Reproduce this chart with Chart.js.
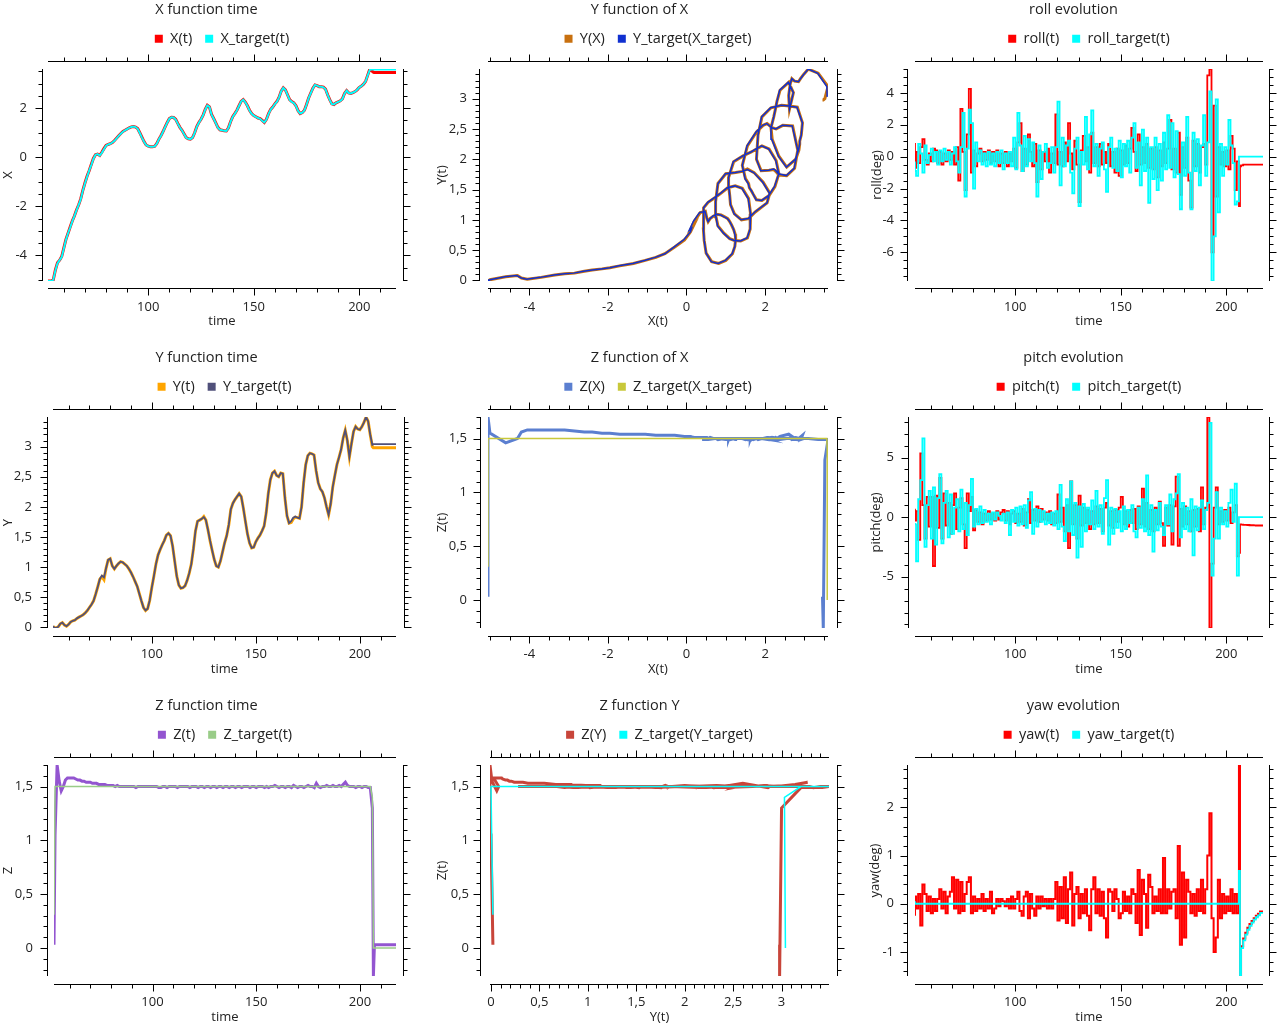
<!DOCTYPE html>
<html><head><meta charset="utf-8">
<script src="https://cdn.jsdelivr.net/npm/chart.js@4.4.1/dist/chart.umd.min.js"></script>
<style>
html,body{margin:0;padding:0;background:#fff;overflow:hidden;width:1280px;height:1024px;position:relative;}
canvas{position:absolute;}
</style></head><body>
<canvas id="c1" width="413" height="340" style="left:0px;top:0px"></canvas>
<canvas id="c2" width="413" height="340" style="left:433px;top:0px"></canvas>
<canvas id="c3" width="413" height="340" style="left:867px;top:0px"></canvas>
<canvas id="c4" width="413" height="340" style="left:0px;top:348px"></canvas>
<canvas id="c5" width="413" height="340" style="left:433px;top:348px"></canvas>
<canvas id="c6" width="413" height="340" style="left:867px;top:348px"></canvas>
<canvas id="c7" width="413" height="340" style="left:0px;top:696px"></canvas>
<canvas id="c8" width="413" height="340" style="left:433px;top:696px"></canvas>
<canvas id="c9" width="413" height="340" style="left:867px;top:696px"></canvas>
<script>
// ---------------- DATA ----------------
const time = [52.5,53,54,55,56,57,58,59,
60,61,62,63,64,65,66,67,68,69,
70,71,72,73,74,75,76,77,78,79,
80,81,82,83,84,85,86,87,88,89,
90,91,92,93,94,95,96,97,98,99,
100,101,102,103,104,105,106,107,108,109,
110,111,112,113,114,115,116,117,118,119,
120,121,122,123,124,125,126,127,128,129,
130,131,132,133,134,135,136,137,138,139,
140,141,142,143,144,145,146,147,148,149,
150,151,152,153,154,155,156,157,158,159,
160,161,162,163,164,165,166,167,168,169,
170,171,172,173,174,175,176,177,178,179,
180,181,182,183,184,185,186,187,188,189,
190,191,192,193,194,195,196,197,198,199,
200,201,202,203,204,205,206,
206.5,207,208,209,210,211,212,213,214,215,216,217.4];

const posX = [-5.05,-5.05,-5.05,-5.0,-4.6,-4.3,-4.2,-4.05,
-3.7,-3.35,-3.1,-2.85,-2.6,-2.4,-2.15,-1.95,-1.7,-1.35,
-1.05,-0.78,-0.55,-0.3,-0.05,0.1,0.13,0.07,0.2,0.35,
0.48,0.52,0.55,0.6,0.68,0.78,0.88,0.97,1.05,1.1,
1.15,1.2,1.24,1.25,1.23,1.17,1.0,0.82,0.64,0.5,
0.45,0.43,0.43,0.44,0.55,0.73,0.88,1.05,1.24,1.42,
1.58,1.63,1.62,1.55,1.38,1.22,1.1,0.95,0.8,0.75,
0.74,0.8,1.0,1.25,1.42,1.55,1.72,1.95,2.12,2.05,
1.75,1.58,1.4,1.22,1.12,1.1,1.08,1.07,1.2,1.45,
1.65,1.78,1.92,2.1,2.28,2.35,2.25,2.1,1.92,1.78,
1.7,1.65,1.6,1.58,1.5,1.42,1.55,1.78,1.95,2.05,
2.18,2.28,2.45,2.7,2.83,2.75,2.55,2.35,2.27,2.22,
2.1,1.9,1.78,1.82,1.92,2.15,2.42,2.62,2.82,2.95,
2.92,2.88,2.88,2.86,2.78,2.55,2.35,2.18,2.15,2.22,
2.26,2.3,2.38,2.6,2.72,2.62,2.6,2.64,2.68,2.75,
2.85,2.9,2.98,3.1,3.35,3.6,3.52,
3.48,3.46,3.46,3.46,3.46,3.46,3.46,3.46,3.46,3.46,3.46,3.46];

const tgtX = [-5.05,-5.05,-5.05,-5.0,-4.62,-4.32,-4.2,-4.07,
-3.72,-3.37,-3.1,-2.87,-2.62,-2.4,-2.17,-1.95,-1.72,-1.37,
-1.07,-0.8,-0.55,-0.32,-0.07,0.1,0.13,0.07,0.18,0.33,
0.47,0.52,0.55,0.6,0.67,0.77,0.87,0.96,1.04,1.1,
1.15,1.2,1.23,1.25,1.23,1.16,0.99,0.8,0.63,0.5,
0.45,0.43,0.43,0.44,0.54,0.72,0.87,1.04,1.23,1.41,
1.57,1.63,1.62,1.54,1.37,1.21,1.09,0.94,0.79,0.75,
0.74,0.8,0.99,1.24,1.41,1.55,1.71,1.94,2.11,2.05,
1.74,1.57,1.39,1.21,1.12,1.1,1.08,1.07,1.19,1.44,
1.64,1.77,1.91,2.09,2.27,2.35,2.24,2.09,1.91,1.77,
1.7,1.65,1.6,1.57,1.49,1.42,1.54,1.77,1.94,2.04,
2.17,2.27,2.44,2.69,2.83,2.74,2.54,2.34,2.26,2.21,
2.09,1.89,1.78,1.82,1.91,2.14,2.41,2.61,2.81,2.95,
2.92,2.88,2.88,2.85,2.77,2.54,2.34,2.17,2.15,2.22,
2.26,2.3,2.37,2.59,2.72,2.62,2.6,2.64,2.68,2.75,
2.85,2.9,2.98,3.1,3.34,3.57,3.58,
3.58,3.58,3.58,3.58,3.58,3.58,3.58,3.58,3.58,3.58,3.58,3.58];

const posY = [0.02,0.0,-0.01,0.01,0.06,0.08,0.04,0.02,
0.05,0.09,0.11,0.12,0.15,0.17,0.19,0.21,0.24,0.28,
0.33,0.38,0.44,0.55,0.67,0.8,0.84,0.79,0.98,1.12,
1.14,1.02,0.97,1.02,1.06,1.09,1.08,1.05,1.02,0.97,
0.91,0.84,0.76,0.68,0.56,0.44,0.33,0.28,0.31,0.45,
0.66,0.85,1.05,1.2,1.29,1.37,1.44,1.53,1.56,1.52,
1.35,1.1,0.85,0.7,0.65,0.66,0.69,0.78,0.9,1.05,
1.3,1.6,1.76,1.78,1.8,1.84,1.78,1.62,1.44,1.28,
1.13,1.02,1.0,1.1,1.25,1.4,1.52,1.7,1.96,2.06,
2.12,2.17,2.22,2.17,1.98,1.76,1.55,1.4,1.32,1.33,
1.42,1.48,1.53,1.6,1.68,1.9,2.22,2.45,2.56,2.59,
2.52,2.5,2.56,2.55,2.15,1.85,1.73,1.74,1.8,1.83,
1.82,1.81,2.0,2.4,2.7,2.85,2.89,2.88,2.86,2.6,
2.4,2.3,2.25,2.15,2.0,1.87,2.05,2.33,2.52,2.7,
2.82,2.95,3.14,3.27,3.1,2.83,3.05,3.25,3.33,3.29,
3.28,3.33,3.4,3.49,3.42,3.2,3.0,
2.98,2.98,2.98,2.98,2.98,2.98,2.98,2.98,2.98,2.98,2.98,2.98];

const tgtY = [0.02,0.0,-0.01,0.01,0.06,0.08,0.04,0.02,
0.05,0.09,0.11,0.12,0.15,0.17,0.19,0.21,0.24,0.28,
0.33,0.38,0.44,0.55,0.67,0.8,0.86,0.83,0.98,1.12,
1.14,1.02,0.97,1.02,1.06,1.09,1.08,1.05,1.02,0.97,
0.91,0.84,0.76,0.68,0.56,0.44,0.33,0.28,0.31,0.45,
0.66,0.85,1.05,1.2,1.29,1.37,1.44,1.53,1.56,1.52,
1.35,1.1,0.85,0.7,0.65,0.66,0.69,0.78,0.9,1.05,
1.3,1.6,1.76,1.78,1.8,1.83,1.78,1.62,1.44,1.28,
1.13,1.02,1.0,1.1,1.25,1.4,1.52,1.7,1.96,2.06,
2.12,2.17,2.22,2.17,1.98,1.76,1.55,1.4,1.32,1.33,
1.42,1.48,1.53,1.6,1.68,1.9,2.22,2.45,2.56,2.59,
2.52,2.5,2.56,2.55,2.15,1.85,1.73,1.76,1.82,1.84,
1.82,1.81,2.0,2.4,2.7,2.85,2.89,2.88,2.86,2.6,
2.4,2.3,2.25,2.15,2.0,1.87,2.05,2.33,2.52,2.7,
2.82,2.95,3.14,3.27,3.1,2.83,3.05,3.25,3.33,3.29,
3.28,3.33,3.4,3.49,3.42,3.2,3.03,
3.04,3.04,3.04,3.04,3.04,3.04,3.04,3.04,3.04,3.04,3.04,3.04];

const posZ = [0.03,1.05,1.7,1.55,1.46,1.5,1.56,1.58,
1.58,1.58,1.58,1.57,1.56,1.56,1.55,1.55,1.54,1.54,
1.54,1.53,1.53,1.53,1.52,1.52,1.52,1.52,1.51,1.51,
1.51,1.51,1.5,1.51,1.5,1.5,1.5,1.5,1.5,1.5,
1.5,1.5,1.49,1.5,1.5,1.5,1.5,1.5,1.5,1.5,
1.5,1.5,1.5,1.49,1.49,1.5,1.5,1.49,1.5,1.5,
1.5,1.5,1.49,1.5,1.5,1.5,1.5,1.5,1.49,1.5,
1.5,1.5,1.49,1.5,1.5,1.49,1.5,1.5,1.49,1.5,
1.5,1.49,1.5,1.5,1.49,1.5,1.5,1.49,1.5,1.5,
1.49,1.5,1.5,1.49,1.5,1.5,1.5,1.49,1.5,1.5,
1.49,1.5,1.5,1.5,1.49,1.5,1.49,1.5,1.5,1.51,
1.5,1.49,1.5,1.5,1.49,1.5,1.5,1.49,1.51,1.5,
1.49,1.5,1.5,1.49,1.5,1.51,1.5,1.5,1.49,1.53,
1.5,1.49,1.5,1.5,1.51,1.5,1.5,1.51,1.5,1.5,
1.51,1.5,1.52,1.54,1.51,1.5,1.5,1.5,1.49,1.5,
1.5,1.49,1.5,1.5,1.49,1.49,1.3,
-0.26,0.03,0.03,0.03,0.03,0.03,0.03,0.03,0.03,0.03,0.03,0.03];

const tgtZ = [0.31,1.5,1.5,1.5,1.5,1.5,1.5,1.5,
1.5,1.5,1.5,1.5,1.5,1.5,1.5,1.5,1.5,1.5,
1.5,1.5,1.5,1.5,1.5,1.5,1.5,1.5,1.5,1.5,
1.5,1.5,1.5,1.5,1.5,1.5,1.5,1.5,1.5,1.5,
1.5,1.5,1.5,1.5,1.5,1.5,1.5,1.5,1.5,1.5,
1.5,1.5,1.5,1.5,1.5,1.5,1.5,1.5,1.5,1.5,
1.5,1.5,1.5,1.5,1.5,1.5,1.5,1.5,1.5,1.5,
1.5,1.5,1.5,1.5,1.5,1.5,1.5,1.5,1.5,1.5,
1.5,1.5,1.5,1.5,1.5,1.5,1.5,1.5,1.5,1.5,
1.5,1.5,1.5,1.5,1.5,1.5,1.5,1.5,1.5,1.5,
1.5,1.5,1.5,1.5,1.5,1.5,1.5,1.5,1.5,1.5,
1.5,1.5,1.5,1.5,1.5,1.5,1.5,1.5,1.5,1.5,
1.5,1.5,1.5,1.5,1.5,1.5,1.5,1.5,1.5,1.5,
1.5,1.5,1.5,1.5,1.5,1.5,1.5,1.5,1.5,1.5,
1.5,1.5,1.5,1.5,1.5,1.5,1.5,1.5,1.5,1.5,
1.5,1.5,1.5,1.5,1.5,1.5,1.4,
0,0,0,0,0,0,0,0,0,0,0,0];

const roll = [0.85,-0.7,0.3,-0.4,0.6,1.1,-0.2,-0.5,
0.2,-0.3,0.5,0.4,-0.4,0.3,-0.5,0.2,-0.3,0.4,
-0.2,0.3,-0.5,0.6,-1.5,3.0,0.3,-2.1,1.4,4.25,
-1.0,0.4,-0.6,0.2,0.5,-0.3,0.3,-0.2,0.4,-0.4,
0.3,-0.3,0.4,-0.6,0.2,-0.4,0.3,-0.6,0.2,-0.3,
0.5,-0.7,0.9,2.1,-0.9,0.5,-0.5,1.4,0.3,-0.6,
0.8,-1.6,0.4,-0.8,0.3,-0.3,0.5,-1.0,0.2,-0.4,
2.65,-0.5,0.3,-0.6,0.9,-0.3,2.1,0.2,-0.8,1.0,
-0.5,-2.85,0.4,1.3,-0.3,0.6,-1.0,1.5,-0.4,0.6,
-0.6,0.8,-0.5,0.3,-0.4,0.8,-0.6,0.3,-1.0,0.5,
-1.2,0.4,-0.5,0.7,-0.4,0.5,1.8,0.3,-0.9,1.4,
-0.5,0.6,-0.4,0.8,-0.7,0.5,-0.8,0.6,-1.3,0.4,
-0.6,0.9,-0.4,0.5,2.3,-0.8,0.5,-1.0,1.5,-2.4,
0.6,-0.7,1.2,-1.5,-3.2,1.0,-0.6,0.8,-1.0,0.6,
0.8,-0.5,5.1,5.5,-6.0,3.2,-2.5,0.6,-0.5,0.3,
-0.6,0.4,-0.8,1.3,0.5,-2.1,-0.3,
-3.1,-0.6,-0.55,-0.5,-0.5,-0.5,-0.5,-0.5,-0.5,-0.5,-0.5,-0.5];

const rollTarget = [-0.3,-0.9,-1.2,0.8,0.2,-1.0,0.7,-0.4,
0.1,0.5,-0.3,0.3,-0.5,0.4,-0.3,0.5,-0.2,0.3,
-0.5,0.2,0.6,-0.3,-1.0,0.6,2.75,-2.5,0.5,2.95,
2.1,-2.0,0.9,-0.3,0.4,-0.5,0.2,-0.6,0.3,-0.5,
0.2,-0.6,0.3,-0.4,0.4,-0.8,0.2,-0.4,0.3,-0.6,
1.2,-0.8,2.75,0.7,-0.9,1.3,-0.6,1.1,-0.3,0.9,
-0.4,-2.5,0.7,-1.4,0.3,0.8,-0.7,-0.4,0.6,-1.0,
0.6,3.45,-1.8,1.2,-0.6,0.7,1.0,-1.0,-2.3,0.5,
1.2,-3.1,0.3,-0.5,2.5,-0.8,1.4,2.9,-0.6,0.8,
-1.2,0.5,0.9,-0.8,-2.2,0.6,1.2,-0.7,0.5,-0.9,
1.0,-1.3,0.8,-0.6,1.0,-1.0,1.2,2.1,-0.7,0.9,
-1.8,1.7,-0.9,1.2,-2.9,0.6,-1.4,1.2,-2.1,0.8,
-1.5,1.5,-0.8,2.6,-0.7,2.1,-1.3,1.6,-1.1,-3.3,
0.9,-1.2,2.5,-1.0,-3.3,1.5,-0.9,1.1,-1.8,0.7,
2.6,-1.2,0.9,4.1,-7.8,-5.0,3.6,-3.5,0.8,-1.2,
0.6,-0.5,2.3,0.7,-0.4,-3.0,-2.8,
0,0,0,0,0,0,0,0,0,0,0,0];

const pitch = [0.7,-0.3,0.5,-1.9,5.35,1.0,-1.8,1.7,
-0.8,1.7,-4.1,1.8,-0.9,3.3,-1.8,2.0,-0.7,1.2,
-1.4,1.0,2.0,-1.0,0.8,1.6,-0.6,-2.6,2.0,0.5,
1.7,-1.1,0.6,-0.4,0.4,-0.6,0.3,-0.3,0.5,-0.2,
0.3,-0.3,0.5,-0.2,0.4,0.6,-0.3,0.5,-0.6,0.3,
0.5,-0.5,0.3,-0.4,0.7,-0.7,0.4,1.5,-0.5,0.6,
-0.3,0.9,-0.4,0.7,-0.2,0.4,-0.3,0.5,-0.6,0.3,
-0.5,1.9,-0.4,0.8,-1.2,1.0,-2.6,3.0,-0.6,1.0,
-1.8,1.8,-0.7,0.8,-0.5,0.6,-1.0,0.5,-0.6,0.9,
-0.5,0.7,-1.2,0.8,1.2,-0.7,0.5,-0.9,0.6,-0.4,
0.8,1.7,-0.6,0.5,-0.8,0.6,-0.5,0.7,-1.0,0.9,
-0.6,2.4,-0.8,1.2,-1.0,0.6,-1.2,0.8,-0.6,1.3,
-0.5,-2.4,0.8,-0.7,1.0,-2.3,0.9,3.4,-2.4,0.7,
-0.8,0.9,-0.6,0.5,-1.2,0.6,-0.8,0.7,-1.2,2.5,
-0.6,0.8,8.4,-9.3,-3.9,0.8,2.5,-0.6,0.5,-0.4,
0.6,-0.3,0.8,-0.5,0.4,1.0,-3.3,
-3.0,-0.6,-0.62,-0.65,-0.65,-0.66,-0.68,-0.68,-0.69,-0.7,-0.7,-0.7];

const pitchTarget = [-0.5,-0.6,-3.7,1.5,3.1,6.6,-2.5,1.0,
2.2,-1.8,2.5,-2.3,1.6,3.6,-2.2,1.2,2.2,-1.7,
1.9,-1.4,0.8,1.5,-1.2,2.3,-1.0,1.2,-1.5,1.0,
3.2,-0.8,0.7,-0.6,0.9,-0.5,0.6,-0.4,0.3,-0.6,
0.4,-0.2,0.4,0.1,-0.3,0.3,-0.5,0.4,-1.5,0.6,
-0.4,0.8,-0.7,0.9,-0.6,1.0,-0.9,1.4,2.1,-1.4,
0.7,-0.8,0.6,-0.4,0.5,-0.6,0.3,-0.5,0.4,-0.7,
0.5,-1.0,2.7,-0.8,-2.0,1.5,-1.2,3.0,-1.5,1.2,
-3.4,0.9,-2.5,1.1,-1.2,0.8,-0.6,1.4,-1.0,2.2,
-0.8,1.0,-1.4,1.6,3.1,-2.3,0.8,-1.4,0.7,-0.9,
0.5,-1.2,0.9,-1.0,0.6,-0.5,1.0,-1.2,-1.7,0.8,
-0.9,1.5,-1.2,3.5,-1.5,1.0,-2.9,0.6,-1.1,1.2,
-0.8,-1.5,1.0,-0.6,1.9,-1.2,1.5,2.0,3.6,-1.7,
1.2,-1.0,0.8,-1.2,1.5,-3.2,0.9,-1.1,0.8,1.4,
-1.0,0.6,1.2,7.9,-4.9,-1.8,2.1,-1.8,0.8,-0.6,
0.5,-0.8,1.2,2.3,-0.4,2.8,-4.9,
0,0,0,0,0,0,0,0,0,0,0,0];

const yaw = [-0.25,0.15,-0.1,0.2,-0.45,0.4,0.2,-0.15,
0.15,-0.2,0.1,-0.15,0.1,0.3,-0.1,0.25,-0.2,0.15,
0.25,0.55,-0.1,0.5,-0.2,0.45,-0.15,0.2,0.45,0.55,
-0.2,0.15,-0.15,0.1,-0.1,0.2,-0.15,0.1,-0.1,0.25,
-0.2,-0.1,0.1,-0.05,0.1,0.05,-0.05,0.1,-0.1,0.15,
-0.1,0.1,0.25,-0.15,-0.25,0.15,0.25,-0.3,0.2,-0.1,
-0.25,0.15,-0.1,0.15,-0.05,0.1,-0.1,0.1,-0.1,0.1,
0.45,-0.35,0.35,-0.3,0.55,-0.4,0.3,0.65,-0.45,0.2,
0.35,-0.3,0.2,-0.2,0.3,-0.25,-0.55,0.3,0.55,-0.2,
0.3,-0.25,0.25,-0.3,-0.7,0.3,0.25,-0.15,0.3,0.1,
-0.3,-0.2,0.25,-0.15,0.15,-0.2,0.3,0.2,-0.4,0.7,
-0.65,0.5,0.2,-0.5,0.6,0.35,-0.2,0.15,-0.15,0.3,
-0.2,0.95,-0.2,0.3,-0.1,0.25,0.3,-0.3,1.2,-0.85,
0.65,-0.7,0.5,0.25,-0.2,0.2,-0.25,0.3,-0.15,0.5,
-0.2,0.3,1.0,1.88,-0.3,-1.0,-0.7,0.5,-0.3,0.2,
-0.2,0.15,-0.15,0.3,-0.2,0.2,-0.2,
2.88,-1.49,-0.88,-0.72,-0.6,-0.5,-0.42,-0.36,-0.3,-0.25,-0.21,-0.16];

const yawTarget = [0.05,0,0,0,0,0,0,0,
0,0,0,0,0,0,0,0,0,0,
0,0,0,0,0,0,0,0,0,0,
0,0,0,0,0,0,0,0,0,0,
0,0,0,0,0,0,0,0,0,0,
0,0,0,0,0,0,0,0,0,0,
0,0,0,0,0,0,0,0,0,0,
0,0,0,0,0,0,0,0,0,0,
0,0,0,0,0,0,0,0,0,0,
0,0,0,0,0,0,0,0,0,0,
0,0,0,0,0,0,0,0,0,0,
0,0,0,0,0,0,0,0,0,0,
0,0,0,0,0,0,0,0,0,0,
0,0,0,0,0,0,0,0,0,0,
0,0,0,0,0,0,0,0,0,0,
0,0,0,0,0,0,0,
0.68,-1.5,-0.92,-0.76,-0.64,-0.54,-0.46,-0.39,-0.33,-0.28,-0.24,-0.19];

// ---------------- RENDERING ----------------
const FONT = "'Open Sans', 'Noto Sans', sans-serif";
const TXT = '#222222';
Chart.defaults.font.family = FONT;
Chart.defaults.color = TXT;

function fmt(v) {
  const r = Math.round(v * 1000) / 1000;
  return String(r).replace('.', ',');
}

function eachTick(min, max, minor, major, cb) {
  const n0 = Math.ceil(min / minor - 1e-6), n1 = Math.floor(max / minor + 1e-6);
  for (let n = n0; n <= n1; n++) {
    const v = n * minor;
    const q = v / major;
    cb(v, Math.abs(q - Math.round(q)) < 1e-6);
  }
}

const qwtAxes = {
  id: 'qwtAxes',
  afterDraw(chart, args, o) {
    const ca = chart.chartArea, ctx = chart.ctx;
    const xs = chart.scales.x, ys = chart.scales.y;
    ctx.save();
    ctx.strokeStyle = '#000';
    ctx.lineWidth = 1;
    const yB = Math.round(ca.bottom + o.gapB) + 0.5;
    const yT = Math.round(ca.top - o.gapT) - 0.5;
    const xL = Math.round(ca.left - o.gapL) - 0.5;
    const xR = Math.round(ca.right + o.gapR) + 0.5;
    ctx.beginPath();
    ctx.moveTo(ca.left, yB); ctx.lineTo(ca.right, yB);
    ctx.moveTo(ca.left, yT); ctx.lineTo(ca.right, yT);
    ctx.moveTo(xL, ca.top); ctx.lineTo(xL, ca.bottom);
    ctx.moveTo(xR, ca.top); ctx.lineTo(xR, ca.bottom);
    eachTick(xs.min, xs.max, o.xMinor, o.xMajor, (v, major) => {
      const px = Math.round(xs.getPixelForValue(v)) + 0.5;
      const len = major ? 7 : 4;
      ctx.moveTo(px, yB); ctx.lineTo(px, yB + len);
      ctx.moveTo(px, yT); ctx.lineTo(px, yT - len);
    });
    eachTick(ys.min, ys.max, o.yMinor, o.yMajor, (v, major) => {
      const py = Math.round(ys.getPixelForValue(v)) + 0.5;
      const len = major ? 7 : 4;
      ctx.moveTo(xL, py); ctx.lineTo(xL - len, py);
      ctx.moveTo(xR, py); ctx.lineTo(xR + len, py);
    });
    ctx.stroke();
    ctx.restore();
  }
};

const panels = [
  {id:'c1', title:'X function time', xTitle:'time', yTitle:'X',
   plotL:48, plotR:396, plotB:281, gapL:5, gapR:7, gapB:7, yPad:0,
   xMajor:50, xMinor:10, yMajor:2, yMinor:0.5, stepped:false,
   series:[{label:'X(t)', x:time, y:posX, color:'#ff0000', w:3},
           {label:'X_target(t)', x:time, y:tgtX, color:'#00ffff', w:2}]},
  {id:'c2', title:'Y function of X', xTitle:'X(t)', yTitle:'Y(t)',
   plotL:55, plotR:395, plotB:281, gapL:8, gapR:9, gapB:7, yPad:1,
   xMajor:2, xMinor:0.5, yMajor:0.5, yMinor:0.1, stepped:false,
   series:[{label:'Y(X)', x:posX, y:posY, color:'#c8700f', w:3},
           {label:'Y_target(X_target)', x:tgtX, y:tgtY, color:'#1030d0', w:1.5}]},
  {id:'c3', title:'roll evolution', xTitle:'time', yTitle:'roll(deg)',
   plotL:48, plotR:396, plotB:281, gapL:7, gapR:6, gapB:7, yPad:2,
   xMajor:50, xMinor:10, yMajor:2, yMinor:0.5, stepped:true,
   series:[{label:'roll(t)', x:time, y:roll, color:'#ff0000', w:1.8},
           {label:'roll_target(t)', x:time, y:rollTarget, color:'#00ffff', w:1.8}]},
  {id:'c4', title:'Y function time', xTitle:'time', yTitle:'Y',
   plotL:53, plotR:396, plotB:280, gapL:5, gapR:8, gapB:8, yPad:0,
   xMajor:50, xMinor:10, yMajor:0.5, yMinor:0.1, stepped:false,
   series:[{label:'Y(t)', x:time, y:posY, color:'#ffa500', w:3},
           {label:'Y_target(t)', x:time, y:tgtY, color:'#50507a', w:1.8}]},
  {id:'c5', title:'Z function of X', xTitle:'X(t)', yTitle:'Z(t)',
   plotL:55, plotR:395, plotB:280, gapL:7, gapR:9, gapB:8, yPad:1,
   xMajor:2, xMinor:0.5, yMajor:0.5, yMinor:0.1, stepped:false,
   series:[{label:'Z(X)', x:posX, y:posZ, color:'#5b7fd0', w:3},
           {label:'Z_target(X_target)', x:tgtX, y:tgtZ, color:'#c8c83a', w:1.5}]},
  {id:'c6', title:'pitch evolution', xTitle:'time', yTitle:'pitch(deg)',
   plotL:48, plotR:396, plotB:280, gapL:6, gapR:6, gapB:8, yPad:1,
   xMajor:50, xMinor:10, yMajor:5, yMinor:1, stepped:true,
   series:[{label:'pitch(t)', x:time, y:pitch, color:'#ff0000', w:1.8},
           {label:'pitch_target(t)', x:time, y:pitchTarget, color:'#00ffff', w:1.8}]},
  {id:'c7', title:'Z function time', xTitle:'time', yTitle:'Z',
   plotL:54, plotR:396, plotB:280, gapL:6, gapR:7, gapB:8, yPad:0,
   xMajor:50, xMinor:10, yMajor:0.5, yMinor:0.1, stepped:false,
   series:[{label:'Z(t)', x:time, y:posZ, color:'#9355d0', w:3},
           {label:'Z_target(t)', x:time, y:tgtZ, color:'#99cc88', w:1.5}]},
  {id:'c8', title:'Z function Y', xTitle:'Y(t)', yTitle:'Z(t)',
   plotL:57, plotR:396, plotB:280, gapL:9, gapR:8, gapB:8, yPad:1,
   xMajor:0.5, xMinor:0.1, yMajor:0.5, yMinor:0.1, stepped:false,
   series:[{label:'Z(Y)', x:posY, y:posZ, color:'#c8453a', w:3},
           {label:'Z_target(Y_target)', x:tgtY, y:tgtZ, color:'#00ffff', w:1.5}]},
  {id:'c9', title:'yaw evolution', xTitle:'time', yTitle:'yaw(deg)',
   plotL:48, plotR:396, plotB:280, gapL:7, gapR:6, gapB:8, yPad:0,
   xMajor:50, xMinor:10, yMajor:1, yMinor:0.2, stepped:true,
   series:[{label:'yaw(t)', x:time, y:yaw, color:'#ff0000', w:2},
           {label:'yaw_target(t)', x:time, y:yawTarget, color:'#00ffff', w:1.8}]}
];

const PLOT_TOP = 69;

function majorTicks(step) {
  return (scale) => {
    const out = [];
    const n0 = Math.ceil(scale.min / step - 1e-9), n1 = Math.floor(scale.max / step + 1e-9);
    for (let n = n0; n <= n1; n++) out.push({value: Math.round(n * step * 1e6) / 1e6});
    scale.ticks = out;
  };
}

function makeChart(P) {
  const cv = document.getElementById(P.id);
  const W = cv.width, H = cv.height;
  let xMin = Infinity, xMax = -Infinity, yMin = Infinity, yMax = -Infinity;
  P.series.forEach(s => {
    xMin = Math.min(xMin, ...s.x); xMax = Math.max(xMax, ...s.x);
    yMin = Math.min(yMin, ...s.y); yMax = Math.max(yMax, ...s.y);
  });
  const datasets = P.series.map((s, k) => ({
    label: s.label,
    data: s.x.map((xv, i) => ({x: xv, y: s.y[i]})),
    borderColor: s.color,
    backgroundColor: s.color,
    borderWidth: s.w,
    pointRadius: 0,
    pointHoverRadius: 0,
    showLine: true,
    tension: 0,
    stepped: P.stepped ? 'after' : false,
    order: k === 0 ? 2 : 1
  }));
  const hiddenGrid = {display: true, drawOnChartArea: false, drawTicks: true,
                      color: 'rgba(0,0,0,0)', tickColor: 'rgba(0,0,0,0)'};
  new Chart(cv, {
    type: 'scatter',
    data: {datasets},
    options: {
      responsive: false,
      animation: false,
      devicePixelRatio: 1,
      events: [],
      layout: {padding: 0, autoPadding: false},
      plugins: {
        tooltip: {enabled: false},
        title: {display: true, text: P.title, color: TXT,
                font: {size: 14.5, weight: 'normal', family: FONT},
                padding: {top: 1, bottom: 0}},
        legend: {display: true, position: 'top', fullSize: false,
          labels: {boxWidth: 8, boxHeight: 8, padding: 13, color: TXT,
                   font: {size: 14.5, family: FONT},
                   generateLabels: (chart) => chart.data.datasets.map((ds, i) => ({
                     text: ds.label, fillStyle: ds.borderColor, strokeStyle: ds.borderColor,
                     lineWidth: 0, hidden: false, datasetIndex: i, fontColor: TXT}))}},
        qwtAxes: {gapL: P.gapL, gapR: P.gapR, gapT: 7, gapB: P.gapB,
                  xMajor: P.xMajor, xMinor: P.xMinor, yMajor: P.yMajor, yMinor: P.yMinor}
      },
      scales: {
        x: {type: 'linear', position: 'bottom', min: xMin, max: xMax,
            afterBuildTicks: majorTicks(P.xMajor),
            afterFit: (s) => { s.height = H - P.plotB; },
            ticks: {callback: (v) => fmt(v), font: {size: 13, family: FONT}, color: TXT,
                    padding: 4, autoSkip: false, maxRotation: 0, minRotation: 0},
            grid: Object.assign({tickLength: 14}, hiddenGrid),
            border: {display: false},
            title: {display: true, text: P.xTitle, color: TXT,
                    font: {size: 13, family: FONT}, padding: {top: 0, bottom: 11}}},
        x2: {type: 'linear', position: 'top', min: xMin, max: xMax,
             afterFit: (s) => {
               const c = s.chart;
               const used = (c.titleBlock ? c.titleBlock.height : 0) + (c.legend ? c.legend.height : 0);
               s.height = Math.max(0, PLOT_TOP - used);
             },
             ticks: {display: false}, grid: {display: false, drawTicks: false},
             border: {display: false}},
        y: {type: 'linear', position: 'left', min: yMin, max: yMax,
            afterBuildTicks: majorTicks(P.yMajor),
            afterFit: (s) => { s.width = P.plotL; },
            ticks: {callback: (v) => fmt(v), font: {size: 13, family: FONT}, color: TXT,
                    padding: 9, autoSkip: false},
            grid: Object.assign({tickLength: 12}, hiddenGrid),
            border: {display: false},
            title: {display: true, text: P.yTitle, color: TXT,
                    font: {size: 13, family: FONT}, padding: {top: P.yPad, bottom: 0}}},
        y2: {type: 'linear', position: 'right', min: yMin, max: yMax,
             afterFit: (s) => { s.width = W - P.plotR; },
             ticks: {display: false}, grid: {display: false, drawTicks: false},
             border: {display: false}}
      }
    },
    plugins: [qwtAxes]
  });
}

panels.forEach(makeChart);
</script>
</body></html>
